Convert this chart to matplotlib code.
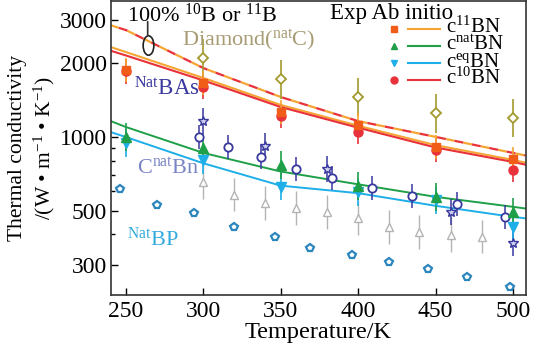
import numpy as np
import matplotlib
matplotlib.use('Agg')
import matplotlib.pyplot as plt
from matplotlib.path import Path
from matplotlib.transforms import Affine2D
from matplotlib.ticker import FixedLocator, FixedFormatter, NullFormatter

plt.rcParams['font.family'] = ['Liberation Serif', 'DejaVu Serif']
plt.rcParams['mathtext.fontset'] = 'custom'
plt.rcParams['mathtext.rm'] = 'Liberation Serif'
plt.rcParams['mathtext.it'] = 'Liberation Serif:italic'
plt.rcParams['mathtext.bf'] = 'Liberation Serif:bold'

# ab initio curves
T_line = [240, 250, 300, 350, 400, 450, 500, 508]
k_11bn_line = [2330, 2220, 1740, 1350, 1110, 925, 805, 785]
k_10bn_line = [2250, 2150, 1700, 1324, 1090, 905, 790, 770]
k_pure_line = [2860, 2730, 1910, 1455, 1160, 1000, 860, 840]
k_natbn_line = [1161, 1097, 860, 722, 640, 569, 518, 510]
k_eqbn_line = [1047, 998, 780, 632, 589, 523, 471, 465]

# experiments on cBN
T_exp = [250, 300, 350, 400, 450, 500]
k_11bn = [1875, 1660, 1262, 1117, 910, 810]
k_10bn = [1850, 1600, 1220, 1047, 885, 732]
k_natbn = [1000, 898, 768, 630, 569, 493]
k_eqbn = [944, 805, 627, 597, 550, 429]

# diamond
T_dia = [300, 350, 400, 450, 500]
k_dia = [2100, 1720, 1455, 1250, 1195]

# BAs
T_bas_c = [297, 316, 337, 360, 383, 409, 435, 464, 495]
k_bas_c = [998, 910, 829, 739, 679, 618, 574, 532, 471]
T_bas_s = [300, 340, 380, 460, 500]
k_bas_s = [1161, 918, 739, 493, 369]

# C natBn
T_cbn = [300, 320, 340, 360, 380, 400, 420, 439, 460, 480]
k_cbn = [655, 580, 537, 513, 493, 466, 429, 409, 398, 391]

# BP
T_bp = [246, 270, 294, 320, 346, 369, 396, 420, 445, 470, 498]
k_bp = [612, 528, 489, 429, 391, 352, 329, 308, 289, 268, 244]

# pointer for the 100% label
T_ptr = 264
k_ptr = 2370

legend_labels = ['c$^{11}$BN', 'c$^{\\mathrm{nat}}$BN', 'c$^{\\mathrm{eq}}$BN', 'c$^{10}$BN']

ORANGE = '#f5a533'
SQ = '#f25c19'
RED = '#e8313a'
GREEN = '#1fa048'
CYAN = '#1eaee8'
OLIVE = '#a39a2e'
NAVY = '#38389e'
GRAY = '#b4b4b4'
BPC = '#2a86bd'

fig = plt.figure(figsize=(5.33, 3.53), dpi=100)
ax = fig.add_axes([111 / 533, 1 - 295 / 353, 415 / 533, 294 / 353])
ax.set_yscale('log')

ax.plot(T_line, k_pure_line, color=ORANGE, lw=1.6, ls=(0, (4, 4)))
ax.plot(T_line, k_pure_line, color=RED, lw=1.6, ls=(4, (4, 4)))
ax.plot(T_line, k_11bn_line, color=ORANGE, lw=1.5)
ax.plot(T_line, k_10bn_line, color=RED, lw=1.5)
ax.plot(T_line, k_natbn_line, color=GREEN, lw=1.4)
ax.plot(T_line, k_eqbn_line, color=CYAN, lw=1.4)


def rel_err(vals, f):
    v = np.array(vals)
    return [v - v / (1 + f), v * f]


ax.errorbar(T_cbn, k_cbn, yerr=rel_err(k_cbn, 0.17), fmt='^', ms=6, mfc='white',
            mec=GRAY, ecolor=GRAY, mew=1.0, lw=1.0)
ax.plot(T_bp, k_bp, ls='none', marker='p', ms=6, mfc='white', mec=BPC, mew=1.6)
ax.errorbar(T_dia, k_dia, yerr=rel_err(k_dia, 0.2), fmt='D', ms=5, mfc='white',
            mec=OLIVE, ecolor=OLIVE, mew=1.3, lw=1.2)
ax.errorbar(T_bas_c, k_bas_c, yerr=rel_err(k_bas_c, 0.12), fmt='o', ms=6,
            mfc='white', mec=NAVY, ecolor=NAVY, mew=1.3, lw=1.1)
ax.errorbar(T_bas_s, k_bas_s, yerr=rel_err(k_bas_s, 0.13), fmt='*', ms=7,
            mfc='#d0d0f0', mec=NAVY, ecolor=NAVY, mew=1.0, lw=1.1)
ax.errorbar(T_exp, k_eqbn, yerr=rel_err(k_eqbn, 0.14), fmt='v', ms=6.5,
            color=CYAN, lw=1.2)
ax.errorbar(T_exp, k_natbn, yerr=rel_err(k_natbn, 0.14), fmt='^', ms=6.5,
            color=GREEN, lw=1.2)
ax.errorbar(T_exp, k_10bn, yerr=rel_err(k_10bn, 0.12), fmt='o', ms=6.5,
            color=RED, lw=1.2)
ax.errorbar(T_exp, k_11bn, yerr=rel_err(k_11bn, 0.12), fmt='s', ms=6,
            color=SQ, ecolor=ORANGE, lw=1.2)

# ellipse pointer next to the "100%" label
ell = Path.unit_circle().transformed(Affine2D().scale(0.55, 1.0))
ax.plot([T_ptr], [k_ptr], marker=ell, ms=14, mfc='none', mec='#222222', mew=1.2)
ax.annotate('', xy=(T_ptr, k_ptr * 1.07), xytext=(T_ptr, k_ptr * 1.28),
            arrowprops=dict(arrowstyle='-', color='#333333', lw=1.2))

ax.set_xlim(240.3, 508.4)
ax.set_ylim(226, 3590)
ax.set_xticks([250, 300, 350, 400, 450, 500])
ax.yaxis.set_major_locator(FixedLocator([300, 500, 1000, 2000, 3000]))
ax.yaxis.set_major_formatter(FixedFormatter(['300', '500', '1000', '2000', '3000']))
ax.yaxis.set_minor_locator(FixedLocator([400, 600, 700, 800, 900]))
ax.yaxis.set_minor_formatter(NullFormatter())
ax.tick_params(axis='both', which='major', direction='in', length=5, width=1,
               labelsize=17, pad=3)
ax.tick_params(axis='x', which='major', pad=4)
ax.tick_params(axis='y', which='minor', direction='in', length=3, width=1)
for s in ax.spines.values():
    s.set_linewidth(1.2)
    s.set_color('#333333')

ax.set_xlabel('Temperature/K', fontsize=17.5, labelpad=0)
ax.set_ylabel('Thermal conductivity\n/(W \u2022 m$^{-1}$ \u2022 K$^{-1}$)', fontsize=15.5,
              linespacing=1.25, labelpad=2)

ax.text(0.039, 0.952, '100% $^{10}$B or $^{11}$B', transform=ax.transAxes,
        fontsize=16, va='center', ha='left')
ax.text(0.171, 0.867, 'Diamond($^{\\mathrm{nat}}$C)', transform=ax.transAxes,
        fontsize=16, va='center', ha='left', color='#a69b72')
ax.text(0.528, 0.959, 'Exp Ab initio', transform=ax.transAxes,
        fontsize=16.5, va='center', ha='left')
ax.text(0.055, 0.70, '$^{\\mathrm{Nat}}$BAs', transform=ax.transAxes,
        fontsize=16.5, va='center', ha='left', color=NAVY)
ax.text(0.063, 0.432, 'C$^{\\mathrm{nat}}$Bn', transform=ax.transAxes,
        fontsize=16, va='center', ha='left', color='#7a84c4')
ax.text(0.038, 0.19, '$^{\\mathrm{Nat}}$BP', transform=ax.transAxes,
        fontsize=16, va='center', ha='left', color='#33aadd')

# legend drawn by hand: Exp marker, Ab initio line, label
rows_y = [0.905, 0.847, 0.789, 0.731]
styles = [('s', SQ, ORANGE), ('^', GREEN, GREEN), ('v', CYAN, CYAN), ('o', RED, RED)]
for yy, (mk, mc, lc), lab in zip(rows_y, styles, legend_labels):
    ax.plot([0.682], [yy], transform=ax.transAxes, ls='none', marker=mk, ms=5,
            color=mc, clip_on=False)
    ax.plot([0.716, 0.793], [yy, yy], transform=ax.transAxes, color=lc, lw=1.5)
    ax.text(0.808, yy - 0.012, lab, transform=ax.transAxes, fontsize=15,
            va='baseline', ha='left')

fig.savefig('out.png', dpi=100)
